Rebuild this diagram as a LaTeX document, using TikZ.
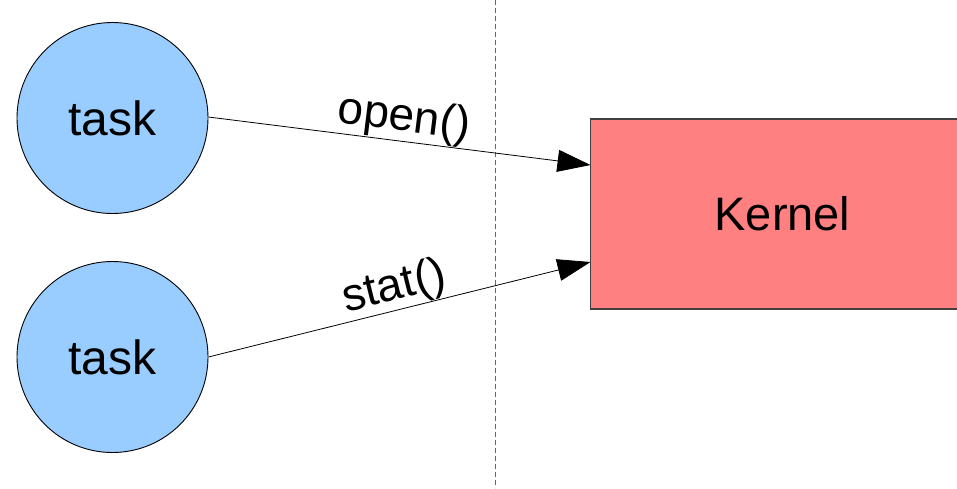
\documentclass[tikz,border=0pt]{standalone}
\usepackage{fontspec}
\setmainfont{Liberation Sans}
\usetikzlibrary{arrows.meta}
\definecolor{taskblue}{HTML}{99CCFF}
\definecolor{kernred}{HTML}{FF8080}
\definecolor{dashgray}{HTML}{666666}
\begin{document}
\begin{tikzpicture}[x=1pt,y=-1pt,
  taskcircle/.style={circle,draw=black,line width=0.9pt,fill=taskblue,minimum size=191pt,inner sep=0pt,font=\fontsize{48}{52}\selectfont},
  kernbox/.style={rectangle,draw=black!75,line width=1.2pt,fill=kernred,minimum width=384pt,minimum height=190pt,inner sep=0pt,font=\fontsize{47}{51}\selectfont},
  callarrow/.style={line width=0.8pt,-{Triangle[length=33pt,width=22pt]}},
  calllabel/.style={font=\fontsize{46}{50}\selectfont,sloped,inner sep=0pt}]
\useasboundingbox (0,0) rectangle (957,488);
\clip (0,0) rectangle (957,488);
\coordinate (dtop) at (495,0);
\coordinate (dbot) at (495,488);
\draw[dashgray,line width=0.9pt,dash pattern=on 5pt off 3pt] (dtop) -- (dbot);
\node[taskcircle] (t1) at (112.5,118) {task};
\node[taskcircle] (t2) at (112.5,357) {task};
\node[kernbox] (k) at (782.5,214) {Kernel};
\coordinate (k1) at (590.5,165);
\coordinate (k2) at (590.5,262);
\draw[callarrow] (t1.east |- 0,117) -- (k1)
  node[calllabel,pos=0.505,above=0.5pt] {open()};
\draw[callarrow] (t2.east |- 0,357) -- (k2)
  node[calllabel,pos=0.5,above=0pt] {stat()};
\end{tikzpicture}
\end{document}
